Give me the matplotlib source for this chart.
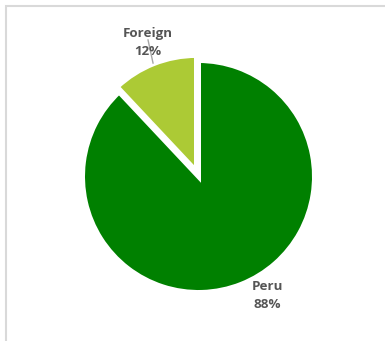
import matplotlib
matplotlib.use("Agg")
import matplotlib.pyplot as plt
from matplotlib.patches import Rectangle

# share of visitors by origin
labels = ['Peru', 'Foreign']
shares = [88, 12]
colors = ['#008000', '#acca35']

plt.rcParams['font.family'] = ['Open Sans', 'DejaVu Sans']

fig = plt.figure(figsize=(3.85, 3.41), dpi=100)
fig.patch.set_facecolor('white')

# chart area border (only top and left edges are in view)
fig.patches.append(Rectangle((6 / 385, -0.1), 1.2, (341 - 6) / 341 + 0.1,
                             transform=fig.transFigure, fill=False,
                             edgecolor='#d9d9d9', linewidth=1.5))

ax = fig.add_axes([48.5 / 385, 14.5 / 341, 300 / 385, 300 / 341])

ax.pie(shares, colors=colors, startangle=90, counterclock=False,
       explode=[0, 0.047], radius=1,
       wedgeprops=dict(edgecolor='white', linewidth=3.6))

# pie() resets the limits, so set them afterwards
lim = 150 / 116
ax.set_xlim(-lim, lim)
ax.set_ylim(-lim, lim)
ax.set_aspect('equal')
ax.axis('off')

# leader line for the small slice
ax.plot([-0.435, -0.392], [1.177, 0.978], color='#a6a6a6', linewidth=1, zorder=3)

txt = dict(ha='center', va='center', fontsize=9.6, fontweight='bold',
           color='#555555', linespacing=1.5, zorder=4)
ax.text(-0.44, 1.159, f'{labels[1]}\n{shares[1]}%', **txt)
ax.text(0.595, -1.022, f'{labels[0]}\n{shares[0]}%', **txt)

fig.savefig('out.png', dpi=100)
